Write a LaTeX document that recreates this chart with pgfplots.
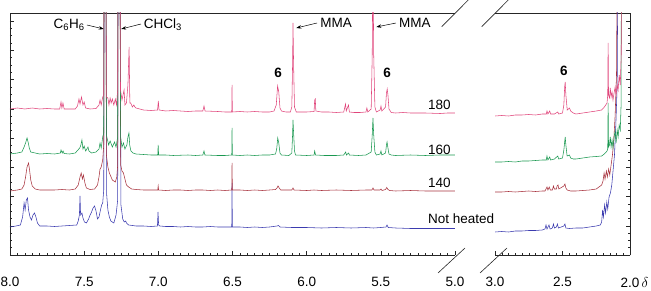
\documentclass[border=0pt]{standalone}
\usepackage{fontspec}
\setmainfont{Liberation Sans}
\usepackage{pgfplots}
\pgfplotsset{compat=1.18}
\usetikzlibrary{arrows.meta}

\definecolor{c180}{HTML}{E0457B}
\definecolor{c160}{HTML}{1A9850}
\definecolor{c140}{HTML}{A8323E}
\definecolor{cnh}{HTML}{3B3BAF}

\pgfplotsset{
  nmr/.style={
    scale only axis, height=242pt, ymin=0, ymax=242,
    x dir=reverse, axis x line*=box,
    axis line style={-, line width=0.6pt, black!85},
    tick align=inside, xtick pos=left,
    minor x tick num=9,
    ytick={0,29.25,...,242}, minor y tick num=3, yticklabels={},
    major tick length=4.5pt, minor tick length=2.5pt,
    tick style={line width=0.5pt, black!85},
    /pgf/number format/assume math mode=true,
    xticklabel style={font=\fontsize{13.5}{15}\selectfont, yshift=-18.5pt,
      /pgf/number format/fixed, /pgf/number format/fixed zerofill,
      /pgf/number format/precision=1},
    clip mode=individual, no markers,
    every axis plot/.append style={line width=0.55pt},
  }
}
\newcommand\lab{\fontsize{13.5}{15}\selectfont}
\tikzset{ann/.style={-{Stealth[length=5pt,width=3.5pt]}, line width=0.5pt, black}}

\begin{document}
\begin{tikzpicture}
\useasboundingbox (0pt,0pt) rectangle (651pt,290pt);

% ---- left part: 8.0 to 5.0 ppm
\begin{axis}[nmr, at={(10pt,35pt)}, anchor=south west, width=445pt,
  xmin=5, xmax=8, xtick={5,5.5,...,8}, axis y line*=left, ytick pos=left]

% not heated
\addplot[cnh] coordinates {
(8.00,28) (7.96,29) (7.93,30) (7.915,38) (7.905,52) (7.898,45) (7.890,55) (7.882,57)
(7.875,45) (7.865,38) (7.855,35) (7.845,40) (7.835,42) (7.825,38) (7.815,32) (7.80,29)
(7.75,29) (7.70,28.5) (7.65,29) (7.60,29.5) (7.55,30) (7.540,34) (7.532,40) (7.528,59)
(7.524,40) (7.515,42) (7.508,37) (7.498,33) (7.485,32) (7.470,36) (7.460,40) (7.450,43)
(7.440,47) (7.430,49) (7.420,44) (7.410,36) (7.400,38) (7.390,45) (7.382,50) (7.375,52)
(7.368,65) (7.363,500) (7.357,500) (7.348,60) (7.340,45) (7.330,38) (7.320,34) (7.300,32)
(7.285,40) (7.274,55) (7.269,500) (7.263,500) (7.252,50) (7.240,36) (7.230,33) (7.220,34)
(7.215,32) (7.20,30) (7.15,29) (7.10,29) (7.05,28.5) (7.006,29) (7.002,43) (6.998,30)
(6.99,29) (6.95,28.5) (6.90,28.5) (6.85,28) (6.80,28.5) (6.75,28) (6.70,28) (6.65,28.5)
(6.60,28) (6.55,28) (6.505,28) (6.503,72) (6.501,28) (6.45,28) (6.40,27.5) (6.35,28)
(6.30,27.5) (6.25,28) (6.20,29) (6.19,29.5) (6.18,28) (6.10,27.5) (6.00,27.5) (5.90,27)
(5.80,27.5) (5.70,27) (5.60,27.5) (5.55,27) (5.50,27.5) (5.465,28) (5.458,30) (5.450,27.5)
(5.40,27) (5.30,26.5) (5.20,26.5) (5.10,26.5) (5.00,26.5)
};
% 140
\addplot[c140] coordinates {
(8.00,64) (7.95,65) (7.92,66) (7.905,70) (7.895,78) (7.885,88) (7.875,92) (7.868,85)
(7.860,75) (7.85,69) (7.83,66) (7.80,65) (7.75,65) (7.70,65) (7.65,65.5) (7.60,65)
(7.56,66) (7.54,70) (7.528,78) (7.520,82) (7.512,76) (7.505,80) (7.495,72) (7.485,67)
(7.46,65.5) (7.43,66) (7.41,70) (7.40,78) (7.393,86) (7.385,88) (7.375,95) (7.368,110)
(7.363,500) (7.357,500) (7.350,100) (7.340,88) (7.330,82) (7.310,75) (7.290,73) (7.280,78)
(7.274,90) (7.269,500) (7.263,500) (7.254,90) (7.245,84) (7.235,82) (7.225,76) (7.215,70)
(7.20,68) (7.18,66) (7.15,65.5) (7.10,65) (7.05,65) (7.004,65) (7.001,69) (6.998,65)
(6.95,64.5) (6.90,65) (6.85,65) (6.80,64.5) (6.75,65) (6.70,65) (6.65,64.5) (6.60,65)
(6.55,64.5) (6.505,65) (6.503,92) (6.501,65) (6.45,65) (6.40,64.5) (6.35,65) (6.30,64.5)
(6.25,65) (6.21,65.5) (6.200,67) (6.193,69) (6.185,67) (6.175,65) (6.12,65) (6.10,65)
(6.092,67) (6.085,65) (6.00,64.5) (5.95,65) (5.90,64.5) (5.80,65) (5.70,64.5) (5.60,65)
(5.56,65) (5.553,67) (5.546,65) (5.505,65) (5.499,66) (5.492,64.5) (5.468,65.5)
(5.460,67.5) (5.452,65.5) (5.44,64.5) (5.40,64) (5.30,64.5) (5.20,64) (5.10,64) (5.00,64)
};
% 160
\addplot[c160] coordinates {
(8.00,101) (7.95,102) (7.92,103) (7.905,108) (7.895,112) (7.885,117) (7.878,113)
(7.870,107) (7.86,103) (7.83,102) (7.80,101) (7.75,101.5) (7.70,101) (7.66,102)
(7.656,105) (7.648,102) (7.642,104) (7.635,101.5) (7.60,101) (7.56,102) (7.53,107)
(7.522,110) (7.515,115) (7.508,106) (7.50,109) (7.49,104) (7.474,108) (7.468,104)
(7.45,102) (7.42,103) (7.40,106) (7.393,112) (7.385,107) (7.375,118) (7.368,122)
(7.363,500) (7.357,500) (7.350,120) (7.335,110) (7.325,114) (7.310,108) (7.295,113)
(7.285,108) (7.274,118) (7.269,500) (7.263,500) (7.254,118) (7.245,108) (7.235,112)
(7.225,106) (7.212,110) (7.205,118) (7.198,122) (7.193,110) (7.185,104) (7.17,102)
(7.15,101) (7.10,100.5) (7.05,100) (7.004,100) (7.001,110) (6.998,100) (6.95,100)
(6.90,99.5) (6.80,100) (6.75,99.5) (6.70,100) (6.692,104) (6.686,100) (6.60,99.5)
(6.55,99.5) (6.505,100) (6.503,127) (6.501,100) (6.45,99.5) (6.40,100) (6.35,99.5)
(6.30,100) (6.25,100) (6.21,101) (6.202,106) (6.195,117) (6.188,112) (6.180,102)
(6.17,100) (6.12,99.5) (6.10,102) (6.095,120) (6.092,135) (6.088,122) (6.082,104)
(6.075,100) (6.00,99.5) (5.95,100) (5.946,104) (5.940,100) (5.88,99.5) (5.80,99.5)
(5.75,100) (5.737,103) (5.732,100) (5.717,102) (5.712,100) (5.65,99.5) (5.60,100)
(5.565,103) (5.558,120) (5.553,137) (5.548,120) (5.540,103) (5.53,100) (5.505,101)
(5.499,104) (5.493,100) (5.468,102) (5.462,110) (5.458,113) (5.452,107) (5.445,101)
(5.43,100) (5.40,99.5) (5.30,100) (5.20,99.5) (5.10,100) (5.00,100)
};
% 180
\addplot[c180] coordinates {
(8.00,146) (7.95,147) (7.90,146) (7.85,147) (7.80,146) (7.75,146.5) (7.70,146)
(7.665,146) (7.656,153) (7.650,147) (7.643,152) (7.635,146) (7.60,146) (7.56,146)
(7.545,149) (7.535,156) (7.528,151) (7.518,158) (7.508,150) (7.50,153) (7.49,147)
(7.46,146) (7.42,146.5) (7.40,150) (7.393,155) (7.385,150) (7.375,158) (7.368,160)
(7.363,500) (7.357,500) (7.350,158) (7.340,157) (7.333,150) (7.325,157) (7.318,152)
(7.310,156) (7.300,150) (7.290,156) (7.282,150) (7.274,165) (7.269,500) (7.263,500)
(7.255,165) (7.245,155) (7.238,160) (7.231,165) (7.225,150) (7.215,152) (7.205,170)
(7.197,208) (7.192,152) (7.186,152) (7.175,148) (7.165,150) (7.158,148) (7.15,147)
(7.10,145) (7.05,144.5) (7.005,145) (7.000,154) (6.995,145) (6.95,144) (6.90,144.5)
(6.85,144) (6.80,143.5) (6.75,144) (6.70,144) (6.692,149) (6.685,144) (6.60,143.5)
(6.55,143) (6.505,143) (6.503,170) (6.501,143) (6.45,143.5) (6.40,143) (6.35,143.5)
(6.30,143) (6.25,143) (6.22,144) (6.205,150) (6.196,169) (6.188,163) (6.180,147)
(6.17,144) (6.14,143) (6.11,143) (6.100,148) (6.095,190) (6.092,232) (6.088,190)
(6.082,148) (6.07,143) (6.00,143) (5.95,143.5) (5.946,155) (5.942,156) (5.938,144)
(5.90,143) (5.85,143) (5.80,142.5) (5.75,143) (5.738,151) (5.733,144) (5.718,150)
(5.712,143) (5.68,142.5) (5.64,142.5) (5.60,143) (5.594,147) (5.588,143) (5.565,146)
(5.558,200) (5.553,300) (5.548,200) (5.540,148) (5.530,143) (5.505,145) (5.499,149)
(5.493,144) (5.468,148) (5.462,162) (5.457,166) (5.452,160) (5.445,146) (5.43,142.5)
(5.40,142) (5.35,142.5) (5.30,142) (5.25,142) (5.20,142) (5.10,141.5) (5.05,142) (5.00,142)
};

% labels and arrows
\node[font=\lab] at (7.602,230) {C\textsubscript{6}H\textsubscript{6}};
\draw[ann] (7.481,230) -- (7.368,226);
\node[font=\lab] at (6.969,230) {CHCl\textsubscript{3}};
\draw[ann] (7.117,231) -- (7.250,226);
\node[font=\lab] at (5.802,232) {MMA};
\draw[ann] (5.930,232) -- (6.070,227);
\node[font=\lab] at (5.270,232) {MMA};
\draw[ann] (5.398,232) -- (5.530,228);
\node[font=\lab\bfseries] at (6.193,182) {6};
\node[font=\lab\bfseries] at (5.458,182) {6};
\node[font=\lab, anchor=west, inner sep=0pt] at (5.182,150) {180};
\node[font=\lab, anchor=west, inner sep=0pt] at (5.182,105) {160};
\node[font=\lab, anchor=west, inner sep=0pt] at (5.182,72) {140};
\node[font=\lab, anchor=west, inner sep=0pt] at (5.182,36) {Not heated};
\end{axis}

% ---- right part: 3.0 to 2.0 ppm
\begin{axis}[nmr, at={(495pt,35pt)}, anchor=south west, width=135pt,
  xmin=2, xmax=3, xtick={2,2.5,3}, xticklabels={2.0\rlap{\,$\delta$},2.5,3.0},
  axis y line*=right, ytick pos=right]

\addplot[cnh] coordinates {
(3.00,23) (2.95,23.5) (2.90,23) (2.85,24) (2.80,24) (2.75,24.5) (2.70,24.5) (2.65,25)
(2.63,26) (2.622,30) (2.615,26) (2.600,30) (2.592,26) (2.575,27) (2.567,31) (2.560,27)
(2.545,28) (2.538,31) (2.530,27) (2.49,29) (2.482,31) (2.475,27) (2.45,26.5) (2.40,27)
(2.35,27) (2.30,28) (2.25,29) (2.22,30) (2.21,33) (2.203,45) (2.197,38) (2.188,50)
(2.181,42) (2.172,53) (2.165,46) (2.155,58) (2.145,62) (2.135,70) (2.125,85) (2.115,100)
(2.105,130) (2.095,170) (2.085,400) (2.00,400)
};
\addplot[c140] coordinates {
(3.00,63) (2.95,63) (2.90,63.5) (2.85,63) (2.80,63.5) (2.75,64) (2.70,63.5) (2.65,64)
(2.63,64) (2.622,66) (2.615,68) (2.608,65) (2.598,68) (2.590,65) (2.575,65) (2.567,69)
(2.560,66) (2.545,66) (2.540,69) (2.533,70) (2.527,66) (2.515,67) (2.49,69) (2.482,71)
(2.475,67) (2.465,65) (2.44,64) (2.40,64) (2.35,64.5) (2.30,65) (2.25,66) (2.21,70)
(2.20,74) (2.192,82) (2.185,76) (2.175,84) (2.168,78) (2.158,86) (2.150,80) (2.140,90)
(2.130,100) (2.120,115) (2.110,140) (2.10,180) (2.09,400) (2.00,400)
};
\addplot[c160] coordinates {
(3.00,93) (2.95,93) (2.90,93.5) (2.85,93) (2.80,94) (2.75,94) (2.70,94.5) (2.65,95)
(2.62,95) (2.615,99) (2.608,95) (2.595,98) (2.588,95) (2.56,96) (2.535,99) (2.528,96)
(2.50,97) (2.49,105) (2.484,113) (2.480,118) (2.475,110) (2.466,99) (2.448,100)
(2.440,97) (2.42,96) (2.40,96) (2.35,97) (2.30,98) (2.25,98.5) (2.21,99) (2.19,101)
(2.17,104) (2.165,106) (2.162,152) (2.159,108) (2.152,110) (2.146,118) (2.14,108)
(2.133,115) (2.126,107) (2.118,118) (2.110,124) (2.103,112) (2.095,125) (2.088,118)
(2.080,130) (2.072,125) (2.066,150) (2.062,400) (2.00,400)
};
\addplot[c180] coordinates {
(3.00,139) (2.95,139.5) (2.90,139) (2.85,140) (2.80,140) (2.75,140.5) (2.70,140)
(2.65,141) (2.62,141) (2.615,144) (2.608,141) (2.595,144) (2.588,141) (2.56,141)
(2.535,143) (2.528,141) (2.50,142) (2.49,150) (2.484,168) (2.480,173) (2.475,160)
(2.465,145) (2.448,147) (2.440,144) (2.42,142) (2.40,141) (2.35,142) (2.30,143)
(2.25,144) (2.21,145) (2.19,148) (2.17,152) (2.165,160) (2.162,212) (2.159,160)
(2.152,157) (2.146,167) (2.14,158) (2.133,163) (2.126,155) (2.118,162) (2.110,168)
(2.103,160) (2.095,170) (2.088,165) (2.080,180) (2.072,170) (2.065,200) (2.058,400)
(2.00,400)
};
\node[font=\lab\bfseries] at (2.489,184) {6};
\end{axis}

% axis break marks
\draw[line width=0.6pt, black!85] (441.7pt,263.3pt) -- (468.3pt,290pt);
\draw[line width=0.6pt, black!85] (481.7pt,263.3pt) -- (508.3pt,290pt);
\draw[line width=0.6pt, black!85] (438pt,17pt) -- (465pt,42pt);
\draw[line width=0.6pt, black!85] (480pt,17pt) -- (507pt,42pt);
\end{tikzpicture}
\end{document}
